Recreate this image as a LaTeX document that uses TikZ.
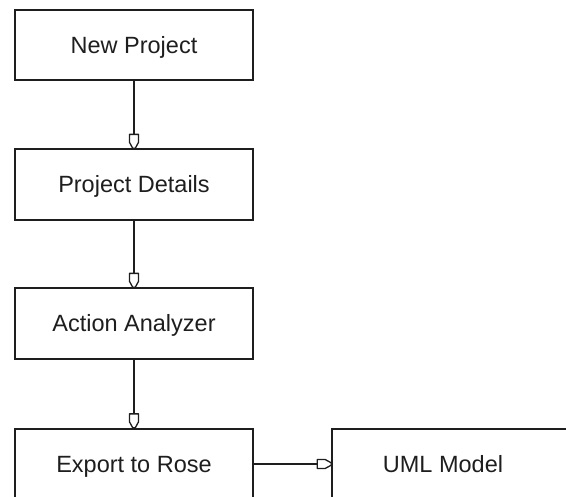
\documentclass[tikz,border=0pt]{standalone}
\usepackage{fontspec}
\setmainfont{Liberation Sans}

% Hollow "tag" arrow head: a square back part that narrows toward the tip
\pgfdeclarearrow{
  name = Tag,
  setup code = {
    \pgfarrowssettipend{0pt}
    \pgfarrowssetlineend{-13.5pt}
    \pgfarrowssetvisualbackend{-14pt}
    \pgfarrowssetbackend{-14pt}
    \pgfarrowshullpoint{0pt}{0pt}
    \pgfarrowsupperhullpoint{-14pt}{4.5pt}
  },
  drawing code = {
    \pgfsetdash{}{0pt}
    \pgfsetroundjoin
    \pgfpathmoveto{\pgfqpoint{0pt}{1.2pt}}
    \pgfpathlineto{\pgfqpoint{-6pt}{4.5pt}}
    \pgfpathlineto{\pgfqpoint{-14pt}{4.5pt}}
    \pgfpathlineto{\pgfqpoint{-14pt}{-4.5pt}}
    \pgfpathlineto{\pgfqpoint{-6pt}{-4.5pt}}
    \pgfpathlineto{\pgfqpoint{0pt}{-1.2pt}}
    \pgfpathclose
    \pgfusepathqstroke
  }
}

\definecolor{ink}{HTML}{1E1E1E}

\begin{document}
\begin{tikzpicture}[x=1pt, y=-1pt,
  lbl/.style={text=ink, font=\fontsize{23.5}{28}\selectfont,
    text height=16.5pt, text depth=0pt},
  stage/.style={draw=ink, line width=1.7pt, rectangle, fill=white,
    minimum width=238pt, minimum height=70.5pt, inner sep=0pt, lbl},
  flow/.style={draw=ink, line width=1.3pt, -Tag}]

  \useasboundingbox (0,0) rectangle (566,497);

  % workflow stages
  \node[stage] (newproj) at (134,45)    {New Project};
  \node[stage] (details) at (134,184.5) {Project Details};
  \node[stage] (analyze) at (134,323.5) {Action Analyzer};
  \node[stage] (export)  at (134,464)   {Export to Rose};
  \node[stage, label={[name=umltext, xshift=-8pt, lbl]center:UML Model}]
        (uml) at (451,464) {};

  % connectors
  \draw[flow] (newproj.south) -- (details.north);
  \draw[flow] (details.south) -- (analyze.north);
  \draw[flow] (analyze.south) -- (export.north);
  \draw[flow] (export.east) -- (uml.west);
\end{tikzpicture}
\end{document}
